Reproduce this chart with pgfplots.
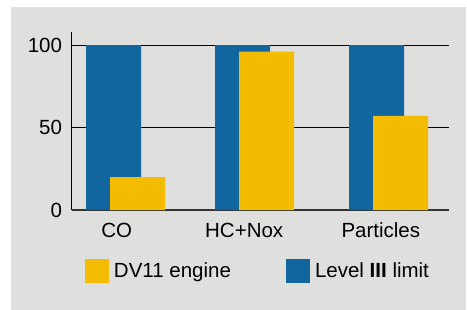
\documentclass[border=0pt]{standalone}
\usepackage{pgfplots}
\pgfplotsset{compat=1.18}
\usepackage{fontspec}
\setmainfont{Liberation Sans}
\definecolor{bgc}{HTML}{DFDFDD}
\definecolor{lblue}{HTML}{1166A0}
\definecolor{dvyel}{HTML}{F4BC00}
\begin{document}
\begin{tikzpicture}
\useasboundingbox (0,0) rectangle (467bp,310bp);
\fill[bgc] (11bp,0) rectangle (466bp,303bp);
\begin{axis}[
  at={(71.7bp,100bp)}, anchor=south west,
  scale only axis, width=377.3bp, height=178bp,
  xmin=71.7, xmax=449, ymin=0, ymax=107.9,
  axis x line=bottom, axis y line=left,
  x axis line style={-, draw=black!80, line width=1.3bp},
  y axis line style={-, draw=black, line width=1bp},
  ytick={0,50,100}, xtick={116.7,244.2,380.8},
  xticklabels={CO,HC+Nox,Particles},
  major tick length=0pt,
  ymajorgrids, grid style={black, line width=0.9bp},
  font=\fontsize{20.5bp}{24bp}\selectfont,
  /pgf/number format/assume math mode=true,
  yticklabel style={anchor=east, inner sep=0pt, xshift=-9.5bp},
  xticklabel style={anchor=base, inner sep=0pt, yshift=-27.7bp},
  ybar, bar width=55, bar shift=0pt,
  legend columns=2,
  legend style={draw=none, fill=none, inner sep=0pt, outer sep=0pt,
    at={(axis cs:85,-29.7)}, anchor=north west,
    font=\fontsize{20.5bp}{24bp}\selectfont,
    nodes={inner sep=0pt},
    /tikz/every even column/.append style={column sep=55bp},
    /tikz/every odd column/.append style={column sep=5bp}},
  legend image code/.code={\path[#1,draw=none] (0bp,-12bp) rectangle (24bp,12bp);},
  clip=false,
]
\addplot[fill=lblue, draw=none, forget plot] coordinates {(113.5,100) (242.5,100) (376.5,100)};
\addplot[fill=dvyel, draw=none, forget plot] coordinates {(137.5,20) (266.5,96) (400.5,57)};
\addlegendimage{fill=dvyel, draw=none}
\addlegendentry{DV11 engine}
\addlegendimage{fill=lblue, draw=none}
\addlegendentry{Level \textbf{III} limit}
\end{axis}
\end{tikzpicture}
\end{document}
